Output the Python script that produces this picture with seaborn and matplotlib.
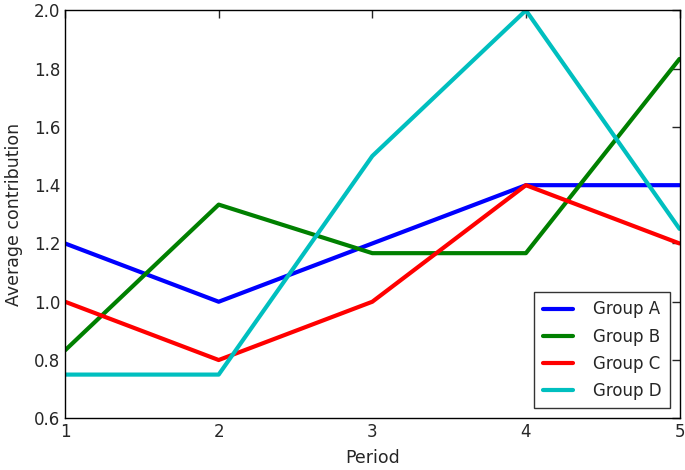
import matplotlib
matplotlib.use("Agg")
import matplotlib.pyplot as plt
import seaborn as sns
import pandas as pd

periods = [1, 2, 3, 4, 5]
group_a = [1.2, 1.0, 1.2, 1.4, 1.4]
group_b = [0.8333, 1.3333, 1.1667, 1.1667, 1.8333]
group_c = [1.0, 0.8, 1.0, 1.4, 1.2]
group_d = [0.75, 0.75, 1.5, 2.0, 1.25]
groups = ["Group A", "Group B", "Group C", "Group D"]
colors = ["#0000ff", "#008000", "#ff0000", "#00bfbf"]

rows = []
for g, vals in zip(groups, [group_a, group_b, group_c, group_d]):
    for p, v in zip(periods, vals):
        rows.append({"Period": p, "Average contribution": v, "Group": g})
df = pd.DataFrame(rows)

sns.set_style("white")
plt.rcParams['font.family'] = ['DejaVu Sans']
fig = plt.figure(figsize=(6.85, 4.70), dpi=100)
ax = fig.add_axes([0.095, 0.11, 0.897, 0.868])
sns.lineplot(data=df, x="Period", y="Average contribution", hue="Group",
             palette=colors, linewidth=3, ax=ax)
ax.set_xlim(1, 5)
ax.set_ylim(0.6, 2.0)
ax.set_xticks([1, 2, 3, 4, 5])
ax.set_yticks([0.6, 0.8, 1.0, 1.2, 1.4, 1.6, 1.8, 2.0])
ax.set_yticklabels([f"{v:.1f}" for v in [0.6, 0.8, 1.0, 1.2, 1.4, 1.6, 1.8, 2.0]])
ax.tick_params(direction="in", top=True, right=True, length=6, width=1, labelsize=12)
for s in ax.spines.values():
    s.set_color("black")
    s.set_linewidth(1)
ax.set_xlabel("Period", fontsize=12.5, labelpad=6)
ax.set_ylabel("Average contribution", fontsize=12.5, labelpad=8)
leg = ax.legend(loc="lower right", fontsize=12, frameon=True, fancybox=False,
                edgecolor="black", handlelength=1.8, handletextpad=1.2,
                labelspacing=0.55, borderaxespad=0.6, borderpad=0.5)
leg.get_frame().set_linewidth(1)
fig.savefig("out.png", dpi=100)
